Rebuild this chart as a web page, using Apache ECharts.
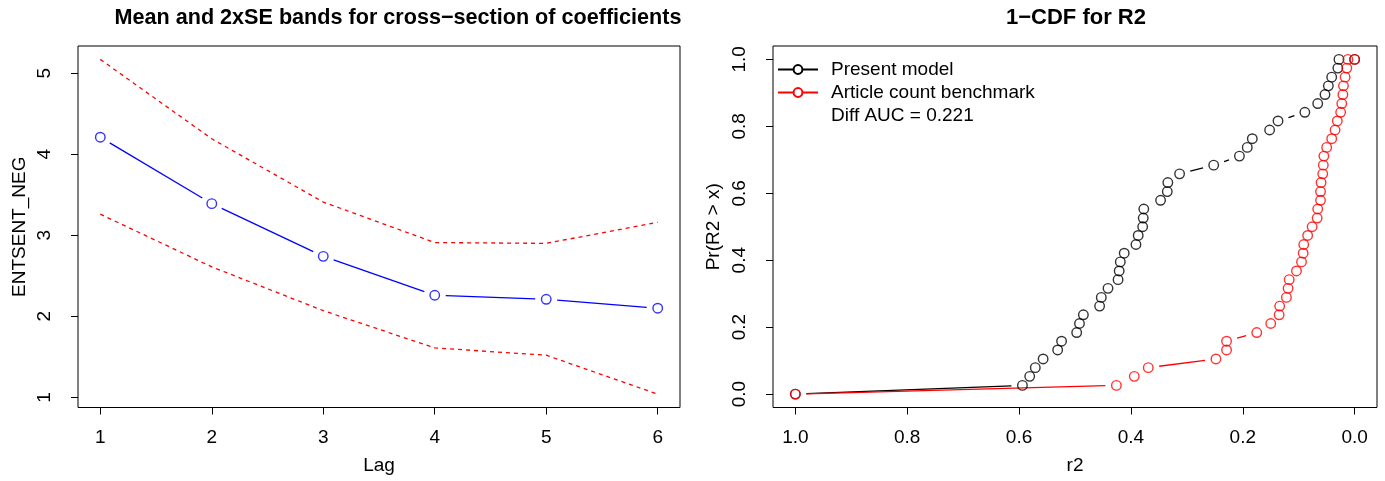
<!DOCTYPE html>
<html><head><meta charset="utf-8">
<script src="https://cdn.jsdelivr.net/npm/echarts@6/dist/echarts.min.js"></script>
<style>html,body{margin:0;padding:0;background:#fff}#c{width:1385px;height:481px}</style>
</head><body><div id="c"></div>
<script>
// ---- Left panel data ----
const lags = [1, 2, 3, 4, 5, 6];
const meanCoef = [4.21, 3.39, 2.74, 2.26, 2.21, 2.10];
const upperBand = [5.17, 4.19, 3.41, 2.91, 2.90, 3.16];
const lowerBand = [3.26, 2.61, 2.07, 1.61, 1.52, 1.04];
const lagTicks = [1, 2, 3, 4, 5, 6];
const coefTicks = [1, 2, 3, 4, 5];

// ---- Right panel data ----
const probLevels = [0.000, 0.026, 0.053, 0.079, 0.105, 0.132, 0.158, 0.184, 0.211, 0.237,
  0.263, 0.289, 0.316, 0.342, 0.368, 0.395, 0.421, 0.447, 0.474, 0.500,
  0.526, 0.553, 0.579, 0.605, 0.632, 0.658, 0.684, 0.711, 0.737, 0.763,
  0.789, 0.816, 0.842, 0.868, 0.895, 0.921, 0.947, 0.974, 1.000, 1.000];
const presentR2 = [1.000, 0.594, 0.581, 0.571, 0.557, 0.531, 0.524, 0.497, 0.492, 0.485,
  0.456, 0.453, 0.441, 0.423, 0.421, 0.419, 0.412, 0.391, 0.387, 0.379,
  0.378, 0.377, 0.347, 0.335, 0.334, 0.313, 0.252, 0.206, 0.192, 0.183,
  0.152, 0.137, 0.089, 0.066, 0.053, 0.047, 0.041, 0.030, 0.028, 0.000];
const benchmarkR2 = [1.000, 0.426, 0.394, 0.369, 0.248, 0.229, 0.229, 0.175, 0.150, 0.135,
  0.134, 0.122, 0.119, 0.117, 0.104, 0.095, 0.092, 0.091, 0.084, 0.076,
  0.067, 0.066, 0.061, 0.061, 0.060, 0.057, 0.056, 0.055, 0.050, 0.041,
  0.035, 0.031, 0.025, 0.023, 0.021, 0.020, 0.017, 0.014, 0.012, 0.000];
const r2Ticks = [0, 0.2, 0.4, 0.6, 0.8, 1.0];
const probTicks = [0, 0.2, 0.4, 0.6, 0.8, 1.0];
const legendNames = ['Present model', 'Article count benchmark', 'Diff AUC = 0.221'];
const titles = ['Mean and 2xSE bands for cross\u2212section of coefficients', '1\u2212CDF for R2'];

const FONT = "'Liberation Sans', Arial, Helvetica, sans-serif";
const FS = 19;
const GAP = 11;

function pairs(xs, ys) { return xs.map((x, i) => [x, ys[i]]); }
function segs(xs, ys) {
  const s = [];
  for (let i = 0; i < xs.length - 1; i++) s.push([xs[i], ys[i], xs[i + 1], ys[i + 1]]);
  return s;
}
function gapLine(color) {
  return function (params, api) {
    const p1 = api.coord([api.value(0), api.value(1)]);
    const p2 = api.coord([api.value(2), api.value(3)]);
    const dx = p2[0] - p1[0], dy = p2[1] - p1[1];
    const d = Math.sqrt(dx * dx + dy * dy);
    if (d <= 2 * GAP) return { type: 'group', children: [] };
    const ux = dx / d, uy = dy / d;
    return {
      type: 'line',
      shape: { x1: p1[0] + ux * GAP, y1: p1[1] + uy * GAP, x2: p2[0] - ux * GAP, y2: p2[1] - uy * GAP },
      style: { stroke: color, lineWidth: 1.3 }
    };
  };
}
function gapSeries(xi, xs, ys, color) {
  return { type: 'custom', xAxisIndex: xi, yAxisIndex: xi, renderItem: gapLine(color),
    data: segs(xs, ys), encode: { x: [0, 2], y: [1, 3] }, silent: true, clip: false, z: 2 };
}
function circles(xi, xs, ys, color) {
  return { type: 'scatter', xAxisIndex: xi, yAxisIndex: xi, data: pairs(xs, ys), symbol: 'circle',
    symbolSize: 9.5, itemStyle: { color: 'rgba(0,0,0,0)', borderColor: color, borderWidth: 1.4 },
    silent: true, z: 3 };
}
function axisCommon(ticks, fmt) {
  return {
    axisLine: { show: false, onZero: false }, splitLine: { show: false },
    axisTick: { show: true, customValues: ticks, length: 7, inside: false, lineStyle: { color: '#000', width: 1 } },
    axisLabel: { customValues: ticks, color: '#000', fontSize: FS, fontFamily: FONT, formatter: fmt },
    nameLocation: 'middle', nameTextStyle: { color: '#000', fontSize: FS, fontFamily: FONT }
  };
}

const chart = echarts.init(document.getElementById('c'), null, { renderer: 'canvas' });
const xa0 = Object.assign(axisCommon(lagTicks, v => String(v)), { gridIndex: 0, type: 'value', min: 0.8, max: 6.2, name: 'Lag', nameGap: 49 });
xa0.axisLabel.margin = 21;
const ya0 = Object.assign(axisCommon(coefTicks, v => String(v)), { gridIndex: 0, type: 'value', min: 0.875, max: 5.335, name: 'ENTSENT_NEG', nameGap: 49 });
ya0.axisLabel.rotate = 90; ya0.axisLabel.margin = 24;
const xa1 = Object.assign(axisCommon(r2Ticks, v => v.toFixed(1)), { gridIndex: 1, type: 'value', min: -0.04, max: 1.04, inverse: true, name: 'r2', nameGap: 49 });
xa1.axisLabel.margin = 21;
const ya1 = Object.assign(axisCommon(probTicks, v => v.toFixed(1)), { gridIndex: 1, type: 'value', min: -0.04, max: 1.04, name: 'Pr(R2 > x)', nameGap: 50 });
ya1.axisLabel.rotate = 90; ya1.axisLabel.margin = 24;

chart.setOption({
  animation: false,
  backgroundColor: '#fff',
  textStyle: { fontFamily: FONT },
  grid: [
    { left: 78, top: 46, width: 602, height: 361.5, show: true, borderColor: '#000', borderWidth: 1, backgroundColor: 'transparent' },
    { left: 773, top: 46, width: 604, height: 361.5, show: true, borderColor: '#000', borderWidth: 1, backgroundColor: 'transparent' }
  ],
  xAxis: [xa0, xa1],
  yAxis: [ya0, ya1],
  legend: {
    orient: 'vertical', left: 777, top: 60, padding: 0, itemWidth: 40, itemHeight: 11, itemGap: 4,
    selectedMode: false,
    textStyle: { color: '#000', fontSize: FS, fontFamily: FONT, lineHeight: 19, padding: [0, 0, 0, 8] },
    data: [{ name: legendNames[0] }, { name: legendNames[1] }, { name: legendNames[2], icon: 'none' }]
  },
  graphic: [
    { type: 'text', x: 398, y: 18, style: { text: titles[0], fill: '#000', font: "bold 21.6px " + FONT, textAlign: 'center', textVerticalAlign: 'middle' } },
    { type: 'text', x: 1076, y: 18, style: { text: titles[1], fill: '#000', font: "bold 22px " + FONT, textAlign: 'center', textVerticalAlign: 'middle' } }
  ],
  series: [
    { type: 'line', xAxisIndex: 0, yAxisIndex: 0, data: pairs(lags, upperBand), showSymbol: false, symbol: 'none',
      lineStyle: { color: '#ff0000', width: 1.3, type: [4, 4] }, silent: true, z: 1 },
    { type: 'line', xAxisIndex: 0, yAxisIndex: 0, data: pairs(lags, lowerBand), showSymbol: false, symbol: 'none',
      lineStyle: { color: '#ff0000', width: 1.3, type: [4, 4] }, silent: true, z: 1 },
    gapSeries(0, lags, meanCoef, '#0000ff'),
    circles(0, lags, meanCoef, '#0000ff'),
    gapSeries(1, presentR2, probLevels, '#000000'),
    circles(1, presentR2, probLevels, '#000000'),
    gapSeries(1, benchmarkR2, probLevels, '#ff0000'),
    circles(1, benchmarkR2, probLevels, '#ff0000'),
    { name: legendNames[0], type: 'line', xAxisIndex: 1, yAxisIndex: 1, data: [], symbol: 'emptyCircle', symbolSize: 9,
      itemStyle: { color: '#000' }, lineStyle: { color: '#000', width: 1.3 } },
    { name: legendNames[1], type: 'line', xAxisIndex: 1, yAxisIndex: 1, data: [], symbol: 'emptyCircle', symbolSize: 9,
      itemStyle: { color: '#ff0000' }, lineStyle: { color: '#ff0000', width: 1.3 } },
    { name: legendNames[2], type: 'scatter', xAxisIndex: 1, yAxisIndex: 1, data: [], itemStyle: { color: '#000' } }
  ]
});
</script></body></html>
